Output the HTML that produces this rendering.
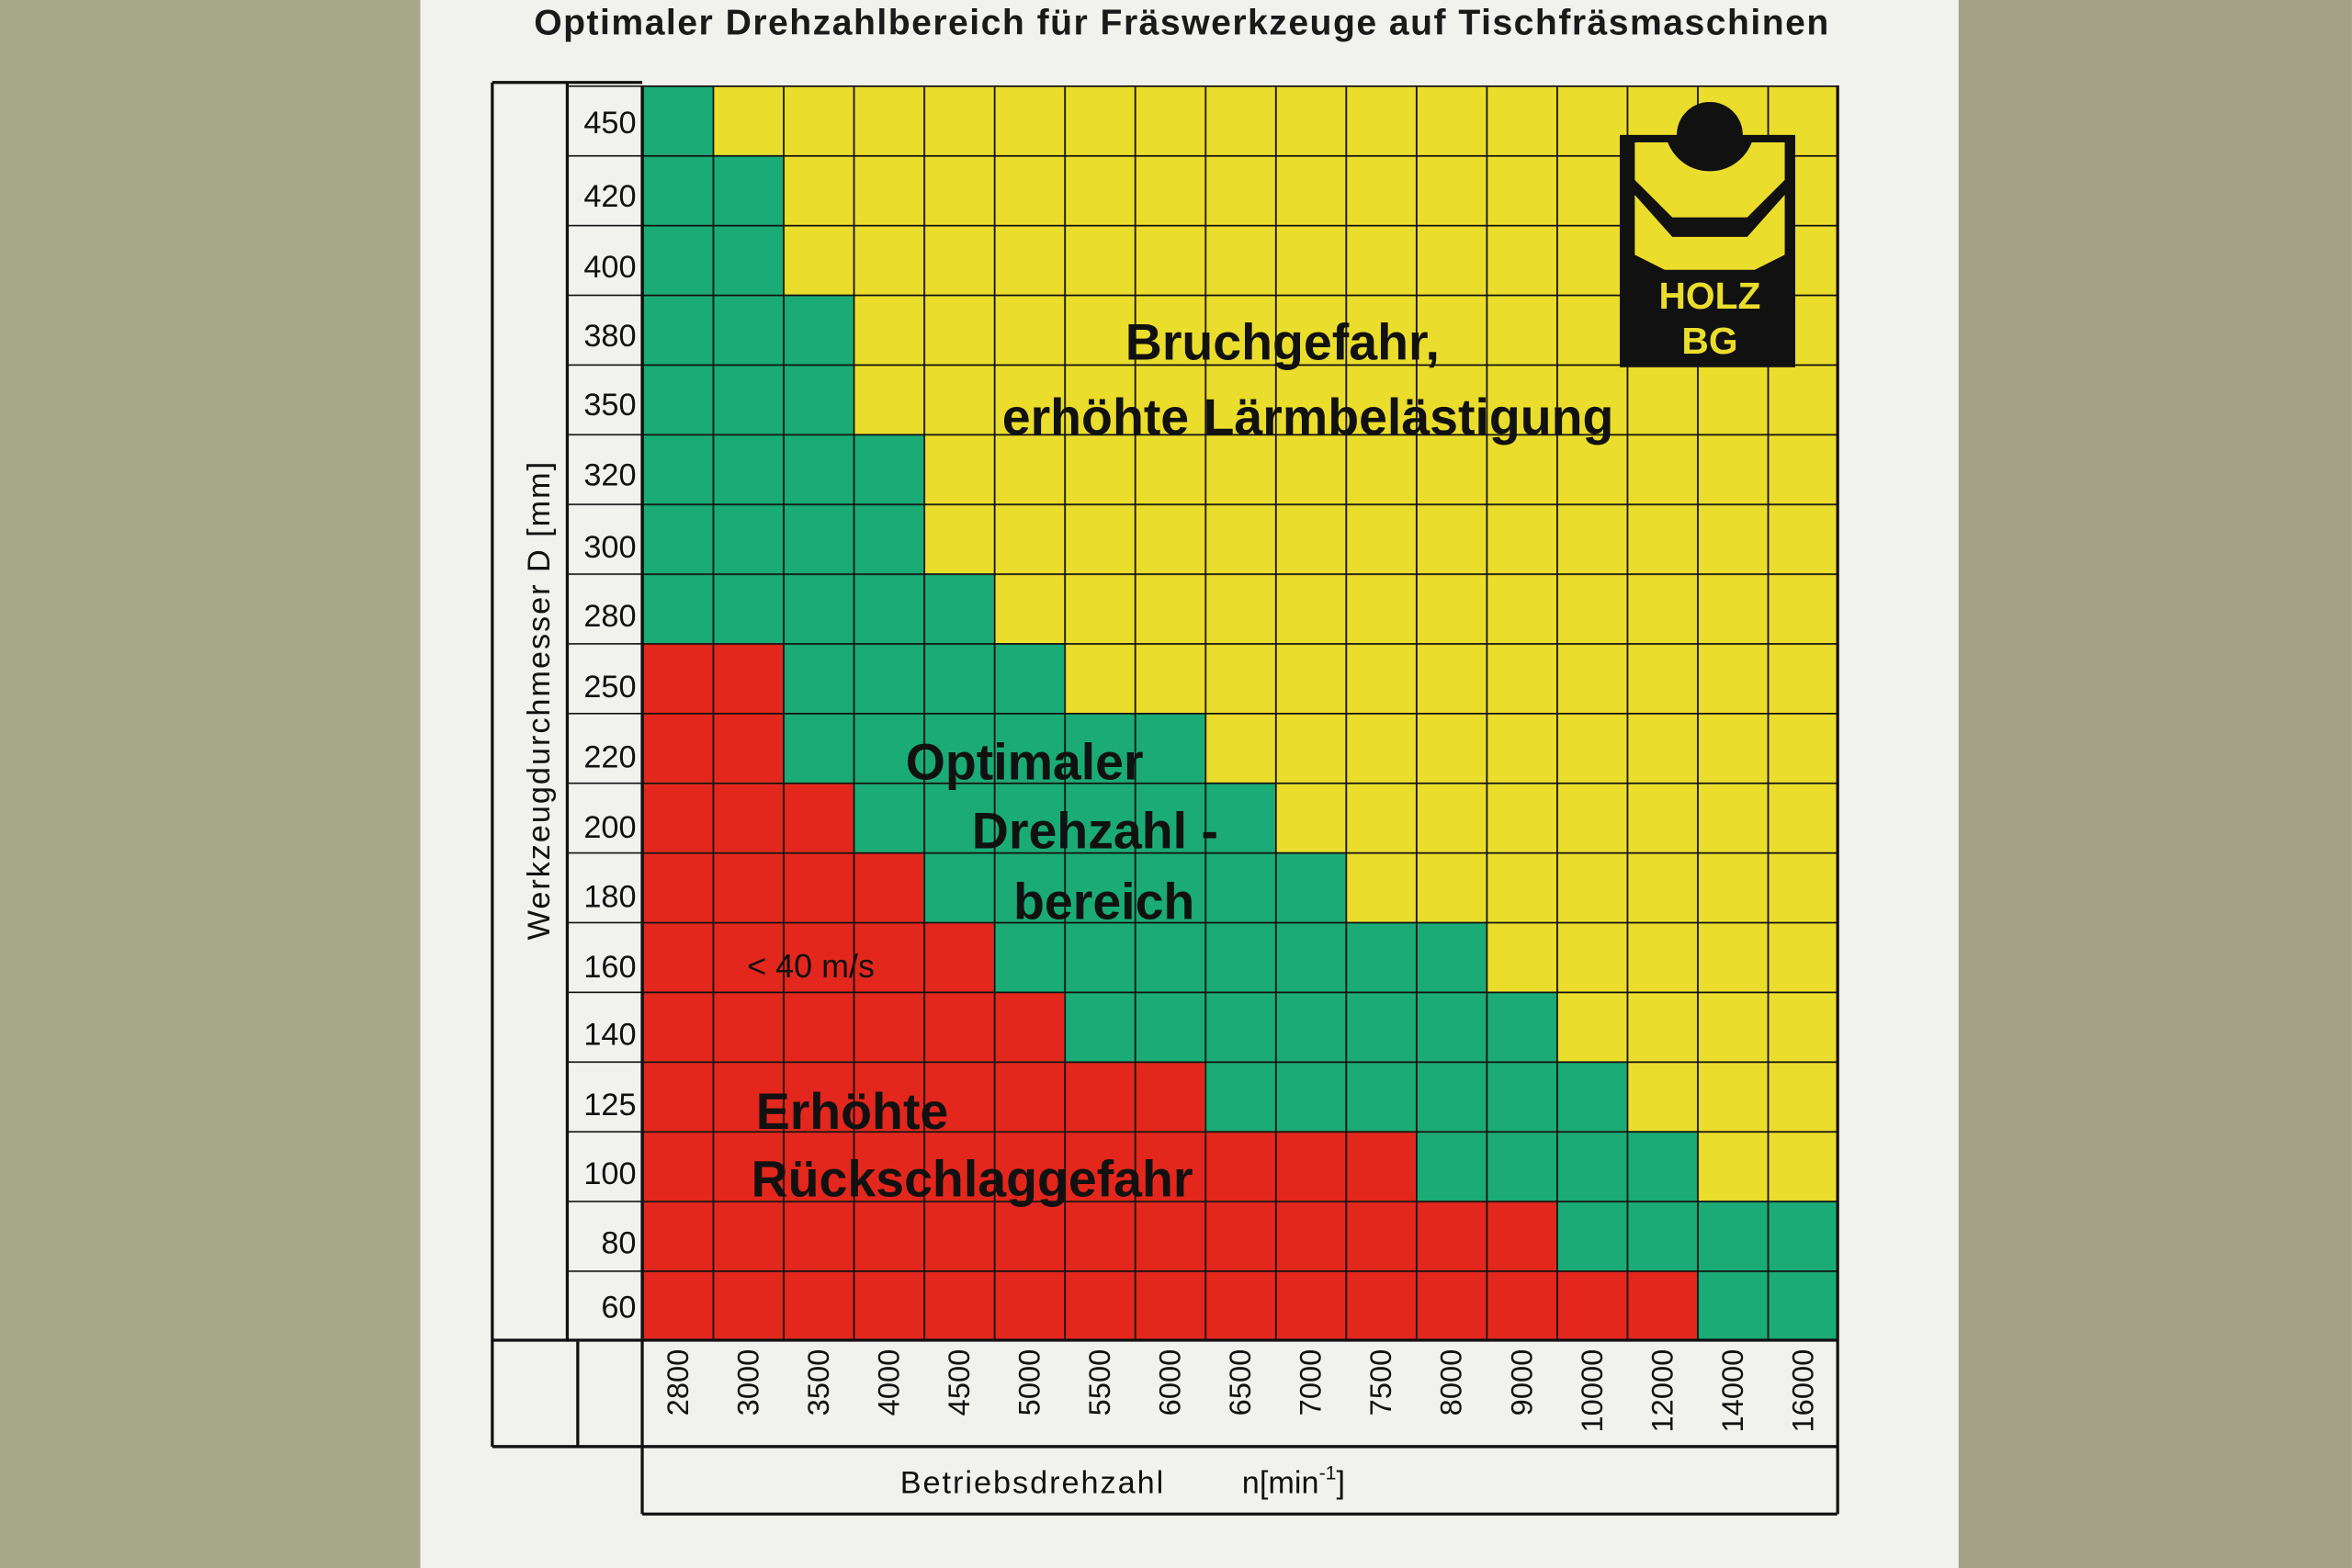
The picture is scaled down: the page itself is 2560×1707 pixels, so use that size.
<!DOCTYPE html>
<html><head><meta charset="utf-8"><style>
html,body{margin:0;padding:0;background:#a8a78b;}
svg{display:block}
text{font-family:"Liberation Sans",sans-serif;}
</style></head><body>
<svg width="2560" height="1707" viewBox="0 0 1568 1046" xmlns="http://www.w3.org/2000/svg">
<defs>
<pattern id="g" patternUnits="userSpaceOnUse" x="428" y="57" width="46.9" height="46.5">
<path d="M0 0 L46.9 0 M0 0 L0 46.5" stroke="#111" stroke-width="2.2" fill="none"/>
</pattern>
<pattern id="h" patternUnits="userSpaceOnUse" x="0" y="57" width="60" height="46.5">
<path d="M0 0 L60 0" stroke="#111" stroke-width="2" fill="none"/>
</pattern>
</defs>
<rect x="0" y="0" width="1568" height="1046" fill="#a7a78a"/>
<rect x="1300" y="0" width="268" height="1046" fill="#a3a287"/>
<rect x="280" y="0" width="1026" height="1046" fill="#f1f1ee"/>
<text x="788" y="23" font-size="24" font-weight="bold" text-anchor="middle" fill="#1a1a1a" letter-spacing="0.9">Optimaler Drehzahlbereich für Fräswerkzeuge auf Tischfräsmaschinen</text>
<rect x="428" y="57" width="797.3" height="837" fill="#ebdd2c"/>
<g fill="#e3271d">
<rect x="428" y="429" width="93.8" height="46.5"/>
<rect x="428" y="475.5" width="93.8" height="46.5"/>
<rect x="428" y="522" width="140.7" height="46.5"/>
<rect x="428" y="568.5" width="187.6" height="46.5"/>
<rect x="428" y="615" width="234.5" height="46.5"/>
<rect x="428" y="661.5" width="281.4" height="46.5"/>
<rect x="428" y="708" width="375.2" height="46.5"/>
<rect x="428" y="754.5" width="515.9" height="46.5"/>
<rect x="428" y="801" width="609.7" height="46.5"/>
<rect x="428" y="847.5" width="703.5" height="46.5"/>
</g>
<g fill="#1aab76">
<rect x="428" y="57" width="46.9" height="46.5"/>
<rect x="428" y="103.5" width="93.8" height="93"/>
<rect x="428" y="196.5" width="140.7" height="93"/>
<rect x="428" y="289.5" width="187.6" height="93"/>
<rect x="428" y="382.5" width="234.5" height="46.5"/>
<rect x="521.8" y="429" width="187.6" height="46.5"/>
<rect x="521.8" y="475.5" width="281.4" height="46.5"/>
<rect x="568.7" y="522" width="281.4" height="46.5"/>
<rect x="615.6" y="568.5" width="281.4" height="46.5"/>
<rect x="662.5" y="615" width="328.3" height="46.5"/>
<rect x="709.4" y="661.5" width="328.3" height="46.5"/>
<rect x="803.2" y="708" width="281.4" height="46.5"/>
<rect x="943.9" y="754.5" width="187.6" height="46.5"/>
<rect x="1037.7" y="801" width="187.6" height="46.5"/>
<rect x="1131.5" y="847.5" width="93.8" height="46.5"/>
</g>
<rect x="428" y="57" width="797.3" height="837" fill="url(#g)"/>
<rect x="378" y="57" width="50" height="837" fill="url(#h)"/>
<g stroke="#111" stroke-width="2" fill="none">
<line x1="328" y1="55" x2="428" y2="55"/>
<line x1="328" y1="55" x2="328" y2="965"/>
<line x1="378" y1="55" x2="378" y2="895"/>
<line x1="385" y1="895" x2="385" y2="965"/>
<line x1="328" y1="894" x2="1225.3" y2="894"/>
<line x1="1225.3" y1="57" x2="1225.3" y2="1010"/>
<line x1="328" y1="965" x2="1225" y2="965"/>
<line x1="428" y1="57" x2="428" y2="1010"/>
<line x1="428" y1="1010" x2="1225" y2="1010"/>
</g>
<g font-size="21" fill="#111" text-anchor="end">
<text x="424" y="89">450</text><text x="424" y="138">420</text><text x="424" y="185">400</text><text x="424" y="231">380</text><text x="424" y="277">350</text><text x="424" y="324">320</text><text x="424" y="372">300</text><text x="424" y="418">280</text><text x="424" y="465">250</text><text x="424" y="512">220</text><text x="424" y="559">200</text><text x="424" y="605">180</text><text x="424" y="652">160</text><text x="424" y="697">140</text><text x="424" y="744">125</text><text x="424" y="790">100</text><text x="424" y="836">80</text><text x="424" y="879">60</text>
</g>
<text transform="translate(366,467) rotate(-90)" font-size="21" fill="#111" text-anchor="middle" letter-spacing="1.2">Werkzeugdurchmesser   D  [mm]</text>
<g font-size="20" fill="#111" text-anchor="end">
<text transform="translate(458.5,900) rotate(-90)">2800</text>
<text transform="translate(505.4,900) rotate(-90)">3000</text>
<text transform="translate(552.3,900) rotate(-90)">3500</text>
<text transform="translate(599.2,900) rotate(-90)">4000</text>
<text transform="translate(646.1,900) rotate(-90)">4500</text>
<text transform="translate(693,900) rotate(-90)">5000</text>
<text transform="translate(739.9,900) rotate(-90)">5500</text>
<text transform="translate(786.8,900) rotate(-90)">6000</text>
<text transform="translate(833.7,900) rotate(-90)">6500</text>
<text transform="translate(880.6,900) rotate(-90)">7000</text>
<text transform="translate(927.5,900) rotate(-90)">7500</text>
<text transform="translate(974.4,900) rotate(-90)">8000</text>
<text transform="translate(1021.3,900) rotate(-90)">9000</text>
<text transform="translate(1068.2,900) rotate(-90)">10000</text>
<text transform="translate(1115.1,900) rotate(-90)">12000</text>
<text transform="translate(1162,900) rotate(-90)">14000</text>
<text transform="translate(1208.9,900) rotate(-90)">16000</text>
</g>
<text x="600" y="996" font-size="21" fill="#111" letter-spacing="1.2">Betriebsdrehzahl</text>
<text x="828" y="996" font-size="21" fill="#111">n[min<tspan font-size="13" dy="-9">-1</tspan><tspan dy="9">]</tspan></text>
<g fill="#111">
<rect x="1080" y="90" width="117" height="155"/>
<circle cx="1140" cy="90" r="22"/>
</g>
<path d="M1090 95 L1112 95 A30 30 0 0 0 1168 95 L1190 95 L1190 120 L1165 145 L1115 145 L1090 120 Z" fill="#ebdd2c"/>
<path d="M1090 130 L1090 170 L1110 180 L1170 180 L1190 170 L1190 130 L1165 158 L1115 158 Z" fill="#ebdd2c"/>
<text x="1140" y="206" font-size="25" font-weight="bold" fill="#ebdd2c" text-anchor="middle">HOLZ</text>
<text x="1140" y="236" font-size="25" font-weight="bold" fill="#ebdd2c" text-anchor="middle">BG</text>
<g fill="#111" font-size="34" font-weight="bold" text-anchor="middle">
<text x="855" y="240">Bruchgefahr,</text>
<text x="872" y="290">erhöhte  Lärmbelästigung</text>
<text x="683" y="520">Optimaler</text>
<text x="730" y="566">Drehzahl -</text>
<text x="736" y="613">bereich</text>
<text x="568" y="753">Erhöhte</text>
<text x="648" y="798">Rückschlaggefahr</text>
</g>
<text x="498" y="652" font-size="22" fill="#111">&lt; 40 m/s</text>
</svg>
</body></html>
